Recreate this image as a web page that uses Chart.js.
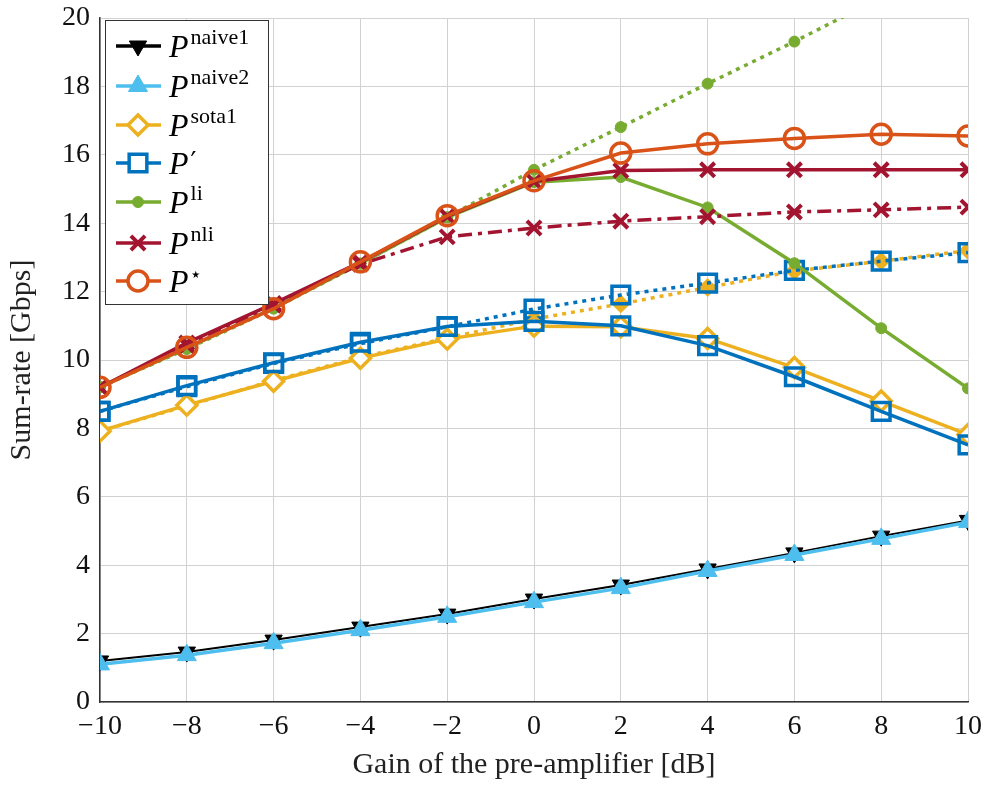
<!DOCTYPE html>
<html>
<head>
<meta charset="utf-8">
<script src="https://cdn.jsdelivr.net/npm/chart.js@4/dist/chart.umd.min.js"></script>
<style>
  html, body { margin: 0; padding: 0; background: #fff; }
  #wrap { position: relative; width: 987px; height: 787px; }
</style>
</head>
<body>
<div id="wrap"><canvas id="rateChart" width="987" height="787"></canvas></div>
<script>
// --- data ---
const gains = [-10, -8, -6, -4, -2, 0, 2, 4, 6, 8, 10];
const xTicks = [-10, -8, -6, -4, -2, 0, 2, 4, 6, 8, 10];
const yTicks = [0, 2, 4, 6, 8, 10, 12, 14, 16, 18, 20];

const naive1    = [1.20, 1.46, 1.81, 2.19, 2.57, 3.01, 3.42, 3.89, 4.36, 4.85, 5.31];
const naive2    = [1.10, 1.37, 1.72, 2.10, 2.49, 2.92, 3.33, 3.83, 4.30, 4.77, 5.26];
const sota1     = [7.92, 8.68, 9.38, 10.05, 10.61, 10.99, 10.97, 10.63, 9.78, 8.80, 7.82];
const sota1Dot  = [7.92, 8.66, 9.40, 10.08, 10.64, 11.20, 11.64, 12.12, 12.60, 12.89, 13.20];
const pPrime    = [8.50, 9.25, 9.92, 10.52, 10.98, 11.13, 11.00, 10.42, 9.51, 8.50, 7.52];
const pPrimeDot = [8.50, 9.22, 9.90, 10.48, 10.97, 11.49, 11.90, 12.25, 12.62, 12.89, 13.14];
const li        = [9.21, 10.35, 11.52, 12.82, 14.17, 15.20, 15.35, 14.46, 12.83, 10.93, 9.17];
const liDot     = [9.21, 10.32, 11.50, 12.82, 14.17, 15.56, 16.81, 18.08, 19.31, 20.60, 21.85];
const nli       = [9.20, 10.50, 11.65, 12.86, 14.20, 15.22, 15.54, 15.56, 15.56, 15.56, 15.56];
const nliDash   = [9.20, 10.42, 11.60, 12.80, 13.60, 13.86, 14.06, 14.19, 14.33, 14.39, 14.47];
const pStar     = [9.20, 10.37, 11.50, 12.87, 14.22, 15.24, 16.05, 16.32, 16.48, 16.60, 16.55];

// --- styles ---
const COL = {
    black: '#000000', cyan: '#4DBEEE', yellow: '#EDB120', blue: '#0072BD',
    green: '#77AC30', red: '#A2142F', orange: '#D95319'
};
const DOT = [4, 5];
const DASHDOT = [14, 6, 4, 6];
const FONT = '"Liberation Serif", "DejaVu Serif", serif';
const NONE = 'rgba(0,0,0,0)';

function pts(arr) {
    return gains.map((g, i) => ({ x: g, y: arr[i] }));
}

function series(label, arr, o) {
    return Object.assign({
        label: label,
        data: pts(arr),
        borderWidth: 3.5,
        borderCapStyle: 'butt',
        tension: 0,
        fill: false,
        pointBorderWidth: 3.5,
        pointBackgroundColor: '#fff',
        inLegend: false
    }, o);
}

const datasets = [
    series('sota1 dotted', sota1Dot, { borderColor: COL.yellow, borderDash: DOT, pointStyle: 'rectRot', pointRadius: 8, pointBorderColor: COL.yellow, pointBackgroundColor: COL.yellow, pointBorderWidth: 2 }),
    series('P\u2032 dotted', pPrimeDot, { borderColor: COL.blue, borderDash: DOT, pointStyle: 'rect', pointRadius: 12.5, pointBorderColor: COL.blue, pointBackgroundColor: NONE }),
    series('li dotted', liDot, { borderColor: COL.green, borderDash: DOT, pointStyle: 'circle', pointRadius: 5.5, pointBorderWidth: 1, pointBorderColor: COL.green, pointBackgroundColor: COL.green }),
    series('naive1', naive1, { borderColor: COL.black, borderWidth: 2, pointStyle: 'triangle', rotation: 180, pointRadius: 10, pointBorderWidth: 1, pointBorderColor: COL.black, pointBackgroundColor: COL.black, inLegend: true, sup: 'naive1' }),
    series('naive2', naive2, { borderColor: COL.cyan, pointStyle: 'triangle', pointRadius: 11, pointBorderWidth: 1, pointBorderColor: COL.cyan, pointBackgroundColor: COL.cyan, inLegend: true, sup: 'naive2' }),
    series('sota1', sota1, { borderColor: COL.yellow, pointStyle: 'rectRot', pointRadius: 10, pointBorderColor: COL.yellow, inLegend: true, sup: 'sota1' }),
    series('P\u2032', pPrime, { borderColor: COL.blue, pointStyle: 'rect', pointRadius: 12.5, pointBorderColor: COL.blue, pointBackgroundColor: NONE, inLegend: true, prime: true }),
    series('li', li, { borderColor: COL.green, pointStyle: 'circle', pointRadius: 5.5, pointBorderWidth: 1, pointBorderColor: COL.green, pointBackgroundColor: COL.green, inLegend: true, sup: 'li' }),
    series('nli dashdot', nliDash, { borderColor: COL.red, borderDash: DASHDOT, pointStyle: 'crossRot', pointRadius: 10, pointBorderWidth: 4, pointBorderColor: COL.red }),
    series('nli', nli, { borderColor: COL.red, pointStyle: 'crossRot', pointRadius: 10, pointBorderWidth: 4, pointBorderColor: COL.red, inLegend: true, sup: 'nli' }),
    series('P*', pStar, { borderColor: COL.orange, pointStyle: 'circle', pointRadius: 10, pointBorderColor: COL.orange, pointBackgroundColor: NONE, inLegend: true, star: true })
];
// later series on top, like the original
datasets.forEach((d, i) => { d.order = datasets.length - i; });

// --- legend box drawn on the canvas ---
const legendBox = {
    id: 'legendBox',
    afterDraw(chart) {
        const ctx = chart.ctx;
        const left = 105, top = 20, w = 163, h = 284;
        const rowY = [46, 86, 125, 163, 202, 243, 281];
        ctx.save();
        ctx.fillStyle = '#fff';
        ctx.fillRect(left, top, w, h);
        ctx.strokeStyle = '#333';
        ctx.lineWidth = 1;
        ctx.strokeRect(left + 0.5, top + 0.5, w, h);

        const items = chart.data.datasets.filter(d => d.inLegend);
        items.forEach((d, i) => {
            const y = rowY[i];
            ctx.setLineDash([]);
            ctx.strokeStyle = d.borderColor;
            ctx.lineWidth = Math.max(d.borderWidth, 3.5);
            ctx.beginPath();
            ctx.moveTo(116, y);
            ctx.lineTo(161, y);
            ctx.stroke();

            ctx.strokeStyle = d.pointBorderColor;
            ctx.fillStyle = d.pointBackgroundColor === NONE ? '#fff' : d.pointBackgroundColor;
            ctx.lineWidth = d.pointBorderWidth;
            Chart.helpers.drawPoint(ctx, {
                pointStyle: d.pointStyle,
                rotation: d.rotation || 0,
                radius: d.pointRadius,
                borderWidth: d.pointBorderWidth
            }, 138, y);

            ctx.fillStyle = '#000';
            ctx.textBaseline = 'alphabetic';
            ctx.textAlign = 'left';
            ctx.font = 'italic 32px ' + FONT;
            const base = y + 11;
            ctx.fillText('P', 169, base);
            const px = 169 + ctx.measureText('P').width;
            if (d.sup) {
                ctx.font = '22px ' + FONT;
                ctx.fillText(d.sup, px + 2, base - 13);
            } else if (d.prime) {
                ctx.font = '26px "DejaVu Serif", serif';
                ctx.fillText('\u2032', px + 2, base - 4);
            } else if (d.star) {
                ctx.font = '20px "DejaVu Sans", sans-serif';
                ctx.fillText('\u22C6', px + 1, base - 11);
            }
        });
        ctx.restore();
    }
};

// --- chart ---
new Chart(document.getElementById('rateChart'), {
    type: 'line',
    data: { datasets: datasets },
    options: {
        responsive: false,
        animation: false,
        layout: { padding: { top: 18, right: 19, left: 0, bottom: 0 } },
        plugins: { legend: { display: false }, tooltip: { enabled: false } },
        scales: {
            x: {
                type: 'linear',
                min: -10, max: 10,
                afterBuildTicks: s => { s.ticks = xTicks.map(v => ({ value: v })); },
                afterFit: s => { s.height = 85; s.paddingLeft = 0; s.paddingRight = 0; },
                grid: { color: '#d2d2d2', lineWidth: 1, drawTicks: false },
                border: { color: '#333', width: 1.5 },
                ticks: {
                    color: '#111', padding: 8,
                    font: { family: FONT, size: 28 },
                    callback: v => (v < 0 ? '\u2212' + Math.abs(v) : String(v))
                },
                title: {
                    display: true, text: 'Gain of the pre-amplifier [dB]',
                    color: '#222', font: { family: FONT, size: 30 }, padding: { top: 2 }
                }
            },
            y: {
                min: 0, max: 20,
                afterBuildTicks: s => { s.ticks = yTicks.map(v => ({ value: v })); },
                afterFit: s => { s.width = 100; s.paddingTop = 0; s.paddingBottom = 0; },
                grid: { color: '#d2d2d2', lineWidth: 1, drawTicks: false },
                border: { color: '#333', width: 1.5 },
                ticks: { color: '#111', padding: 10, font: { family: FONT, size: 28 } },
                title: {
                    display: true, text: 'Sum-rate [Gbps]',
                    color: '#222', font: { family: FONT, size: 30 }, padding: { bottom: 0, top: 4 }
                }
            }
        }
    },
    plugins: [legendBox]
});
</script>
</body>
</html>
